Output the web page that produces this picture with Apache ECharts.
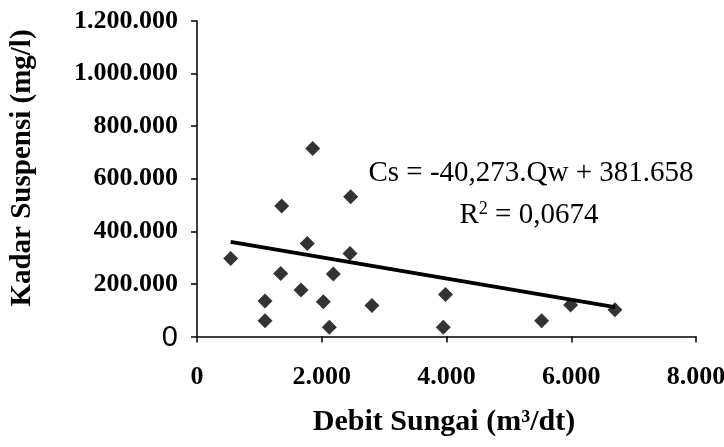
<!DOCTYPE html>
<html>
<head>
<meta charset="utf-8">
<style>
html,body{margin:0;padding:0;background:#fff;}
#chart{width:724px;height:447px;}
</style>
<script src="https://cdn.jsdelivr.net/npm/echarts@6/dist/echarts.min.js"></script>
</head>
<body>
<div id="chart"></div>
<script>
// Debit Sungai (m3/dt)
const debit = [540, 1855, 1358, 2464, 1768, 2453, 1342, 2185, 1667, 1090, 2025, 1090, 2121, 2805, 3984, 3948, 5525, 5990, 6700];
// Kadar Suspensi (mg/l)
const kadar = [297000, 715000, 496000, 532000, 354000, 316000, 240000, 238000, 177000, 135000, 132000, 60000, 35000, 118000, 160000, 35000, 60000, 120000, 102000];
// Trend line from the printed equation Cs = -40,273.Qw + 381.658
const trendSlope = -40.273;
const trendIntercept = 381658;
const xTicks = [0, 2000, 4000, 6000, 8000];
const yTicks = [0, 200000, 400000, 600000, 800000, 1000000, 1200000];
const xTitle = 'Debit Sungai (m³/dt)';
const yTitle = 'Kadar Suspensi (mg/l)';
const equationText = 'Cs = -40,273.Qw + 381.658';
const r2Text = '0,0674';

const points = debit.map((x, i) => [x, kadar[i]]);
const xMinData = Math.min(...debit), xMaxData = Math.max(...debit);
const trend = [xMinData, xMaxData].map(x => [x, trendSlope * x + trendIntercept]);

function dotted(v) { return String(v).replace(/\B(?=(\d{3})+(?!\d))/g, '.'); }

const serif = '"Liberation Serif", "Times New Roman", serif';
const ink = '#000';
const chart = echarts.init(document.getElementById('chart'), null, {renderer: 'canvas'});
chart.setOption({
  backgroundColor: '#ffffff',
  animation: false,
  grid: {left: 197, right: 28, top: 21, bottom: 110.5, containLabel: false, outerBoundsMode: 'none'},
  xAxis: {
    type: 'value',
    min: xTicks[0], max: xTicks[xTicks.length - 1], interval: xTicks[1] - xTicks[0],
    splitLine: {show: false},
    axisLine: {lineStyle: {color: ink, width: 1.5}},
    axisTick: {inside: false, length: 6, lineStyle: {color: ink, width: 1.5}},
    axisLabel: {
      margin: 28, color: ink, fontFamily: serif, fontSize: 26, fontWeight: 'bold',
      formatter: v => dotted(v)
    }
  },
  yAxis: {
    type: 'value',
    min: yTicks[0], max: yTicks[yTicks.length - 1], interval: yTicks[1] - yTicks[0],
    splitLine: {show: false},
    axisLine: {show: true, lineStyle: {color: ink, width: 1.5}},
    axisTick: {show: true, length: 6, lineStyle: {color: ink, width: 1.5}},
    axisLabel: {
      margin: 19, color: ink, fontFamily: serif, fontSize: 26, fontWeight: 'bold',
      formatter: v => v === 0 ? '{z|0}' : dotted(v),
      rich: {z: {fontFamily: '"Liberation Sans", Arial, sans-serif', fontSize: 29, fontWeight: 'normal', color: ink, padding: [2, 0, 0, 0]}}
    }
  },
  series: [
    {
      type: 'scatter', data: points, symbol: 'diamond', symbolSize: 15,
      itemStyle: {color: ink}, z: 3
    },
    {
      type: 'line', data: trend, symbol: 'none',
      lineStyle: {color: ink, width: 4}, z: 2
    }
  ],
  graphic: [
    {
      type: 'text', x: 23, y: 168, rotation: Math.PI / 2,
      style: {text: yTitle, fill: ink, font: 'bold 29px ' + serif, align: 'center', verticalAlign: 'middle'}
    },
    {
      type: 'text', x: 444, y: 422,
      style: {text: xTitle, fill: ink, font: 'bold 30px ' + serif, align: 'center', verticalAlign: 'middle'}
    },
    {
      type: 'text', x: 531, y: 173,
      style: {text: equationText, fill: ink, font: '29px ' + serif, align: 'center', verticalAlign: 'middle'}
    },
    {
      type: 'text', x: 529, y: 215,
      style: {
        text: 'R{s|2} = ' + r2Text,
        rich: {s: {fontSize: 18, fontFamily: serif, fill: ink, verticalAlign: 'top', padding: [0, 0, 12, 0]}},
        fill: ink, font: '29px ' + serif, align: 'center', verticalAlign: 'middle'
      }
    }
  ]
});
</script>
</body>
</html>
